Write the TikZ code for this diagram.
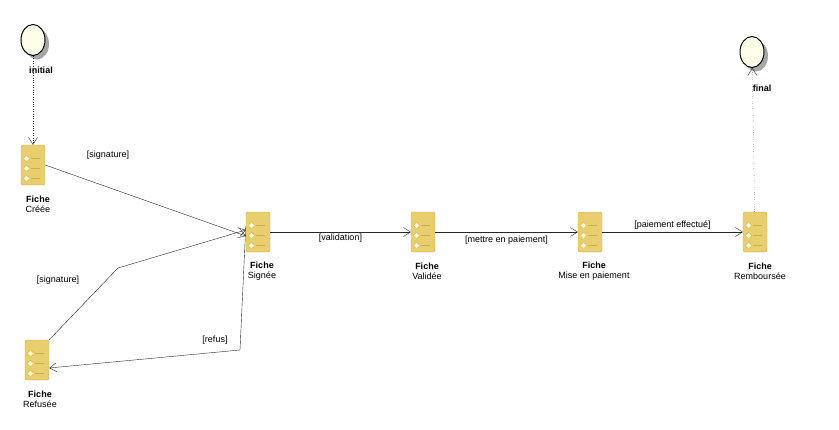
\documentclass[tikz,border=0pt]{standalone}
\usepackage{fontspec}
\setmainfont{Liberation Sans}
\usetikzlibrary{arrows.meta,shapes.geometric}
\definecolor{fichejaune}{RGB}{232,206,110}
\definecolor{fichebord}{RGB}{205,175,70}
\tikzset{
  etat/.style={draw=fichebord, fill=fichejaune, rounded corners=1.5pt,
    minimum width=24pt, minimum height=40pt, inner sep=0pt,
    path picture={
      \foreach \k in {1,2,3}
        {\draw[fichebord, fill=yellow!15] ([xshift=3pt,yshift=-1pt-10*\k pt]path picture bounding box.north west) rectangle ++(5pt,-5pt);
         \draw[fichebord] ([xshift=10pt,yshift=-3.5pt-10*\k pt]path picture bounding box.north west) -- ++(9pt,0);}}},
  pseudo/.style={draw, ellipse, fill=yellow!8, line width=1pt, minimum width=24pt, minimum height=31pt, inner sep=0pt},
  lbl/.style={font=\fontsize{9}{10}\selectfont, inner sep=1pt},
  trans/.style={draw=black!85, line width=0.4pt, -{Straight Barb[length=7pt,width=9pt]}}
}
\begin{document}
\begin{tikzpicture}[x=1pt,y=-1pt]
\useasboundingbox (0,0) rectangle (839,429);
% etats
\fill[gray!70] (37,44) ellipse [x radius=12pt, y radius=15.5pt];
\node[pseudo] (init) at (33,40) {};
\node[lbl,font=\fontsize{9}{10}\selectfont\bfseries] (initlbl) at (41,70) {initial};
\fill[gray!70] (756,56) ellipse [x radius=12pt, y radius=15.5pt];
\node[pseudo] (fin) at (752,52) {};
\node[etat] (cree) at (33,165) {};
\node[etat] (signee) at (258,232) {};
\node[etat] (validee) at (423,232) {};
\node[etat] (mise) at (590,232) {};
\node[etat] (remb) at (755,232) {};
\node[etat] (refusee) at (37,360) {};
% libelles des etats
\node[lbl,align=center] at (38,204) {\textbf{Fiche}\\Créée};
\node[lbl,align=center] at (262,271) {\textbf{Fiche}\\Signée};
\node[lbl,align=center] at (427,271) {\textbf{Fiche}\\Validée};
\node[lbl,align=center] at (594,271) {\textbf{Fiche}\\Mise en paiement};
\node[lbl,align=center] at (760,271) {\textbf{Fiche}\\Remboursée};
\node[lbl,align=center] at (40,399) {\textbf{Fiche}\\Refusée};
\node[lbl,font=\fontsize{9}{10}\selectfont\bfseries] (finlbl) at (762,88) {final};
% transitions
\coordinate (c1) at (118,268);
\coordinate (c2) at (240,350);
\draw[trans, dotted] (init) -- (cree);
\draw[trans] (cree.east) -- ([yshift=-4pt]signee.west);
\node[lbl] at (108,155) {[signature]};
\draw[trans] (refusee.north east) -- (c1) -- ([yshift=2pt]signee.west);
\node[lbl] at (58,280) {[signature]};
\draw[trans] ([yshift=6pt]signee.west) -- (c2) -- ([yshift=-8pt]refusee.east);
\node[lbl] at (215,340) {[refus]};
\draw[trans] (signee) -- node[lbl, below=1pt] {[validation]} (validee);
\draw[trans] (validee) -- node[lbl, below=3pt] {[mettre en paiement]} (mise);
\draw[trans] (mise) -- node[lbl, above=1pt] {[paiement effectué]} (remb);
\draw[trans, dotted] (remb) -- (fin);
\end{tikzpicture}
\end{document}
